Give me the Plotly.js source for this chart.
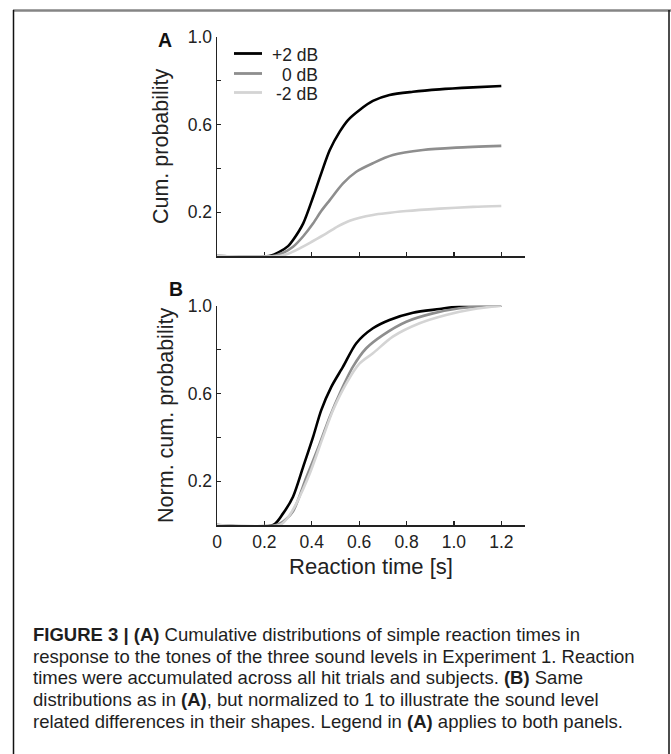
<!DOCTYPE html>
<html>
<head>
<meta charset="utf-8">
<script src="https://cdn.plot.ly/plotly-3.0.1.min.js"></script>
<style>
  html, body { margin: 0; padding: 0; background: #fff; }
  #chart { width: 671px; height: 754px; }
</style>
</head>
<body>
<div id="chart"></div>
<script>
// ---- Data ----
const seriesNames = ['+2 dB', '0 dB', '-2 dB'];
const seriesColors = ['#000000', '#8e8e8e', '#d4d4d4'];

// Panel A: cumulative probability
const xA_plus2 = [0, 0.22, 0.265, 0.30, 0.321, 0.364, 0.406, 0.44, 0.476, 0.518, 0.553, 0.602, 0.658, 0.728, 0.827, 0.939, 1.08, 1.2];
const yA_plus2 = [0, 0, 0.02, 0.045, 0.073, 0.149, 0.27, 0.377, 0.483, 0.567, 0.62, 0.666, 0.707, 0.734, 0.749, 0.760, 0.769, 0.775];
const xA_zero  = [0, 0.236, 0.28, 0.321, 0.364, 0.406, 0.44, 0.476, 0.532, 0.588, 0.658, 0.742, 0.869, 1.009, 1.2];
const yA_zero  = [0, 0, 0.015, 0.042, 0.09, 0.149, 0.205, 0.255, 0.331, 0.384, 0.423, 0.46, 0.483, 0.494, 0.502];
const xA_minus2 = [0, 0.265, 0.30, 0.349, 0.40, 0.462, 0.51, 0.56, 0.658, 0.799, 0.939, 1.08, 1.2];
const yA_minus2 = [0, 0, 0.01, 0.035, 0.065, 0.103, 0.135, 0.161, 0.187, 0.205, 0.216, 0.224, 0.228];

// Panel B: normalized cumulative probability
const xB_plus2 = [0, 0.237, 0.279, 0.321, 0.364, 0.406, 0.44, 0.483, 0.532, 0.588, 0.658, 0.728, 0.827, 0.939, 1.023, 1.08, 1.2];
const yB_plus2 = [0, 0, 0.053, 0.129, 0.266, 0.403, 0.524, 0.631, 0.722, 0.829, 0.897, 0.935, 0.968, 0.985, 0.997, 1.0, 1.0];
const xB_zero  = [0, 0.25, 0.29, 0.321, 0.378, 0.434, 0.476, 0.518, 0.574, 0.63, 0.7, 0.799, 0.911, 1.023, 1.121, 1.2];
const yB_zero  = [0, 0, 0.025, 0.062, 0.22, 0.372, 0.494, 0.6, 0.722, 0.806, 0.866, 0.927, 0.965, 0.988, 0.998, 1.0];
const xB_minus2 = [0, 0.265, 0.30, 0.335, 0.392, 0.448, 0.49, 0.546, 0.602, 0.658, 0.742, 0.855, 0.967, 1.08, 1.2];
const yB_minus2 = [0, 0, 0.035, 0.099, 0.236, 0.403, 0.524, 0.646, 0.737, 0.783, 0.859, 0.92, 0.958, 0.984, 1.0];

// Axis ticks
const xTickVals = [0, 0.2, 0.4, 0.6, 0.8, 1.0, 1.2];
const xTickText = ['0', '0.2', '0.4', '0.6', '0.8', '1.0', '1.2'];
const yTickVals = [0.2, 0.4, 0.6, 0.8, 1.0];
const yTickText = ['0.2', '', '0.6', '', '1.0'];

// Caption lines
const captionLines = [
  '<b>FIGURE 3 | (A)</b> Cumulative distributions of simple reaction times in',
  'response to the tones of the three sound levels in Experiment 1. Reaction',
  'times were accumulated across all hit trials and subjects. <b>(B)</b> Same',
  'distributions as in <b>(A)</b>, but normalized to 1 to illustrate the sound level',
  'related differences in their shapes. Legend in <b>(A)</b> applies to both panels.'
];

// ---- Build traces ----
const W = 671, H = 754;
const px = v => v / W;
const py = v => 1 - v / H;

const panelA = [[xA_plus2, yA_plus2], [xA_zero, yA_zero], [xA_minus2, yA_minus2]];
const panelB = [[xB_plus2, yB_plus2], [xB_zero, yB_zero], [xB_minus2, yB_minus2]];

const traces = [];
[[panelA, 'x', 'y'], [panelB, 'x2', 'y2']].forEach(([panel, xa, ya]) => {
  panel.forEach((d, i) => {
    traces.push({
      x: d[0], y: d[1], xaxis: xa, yaxis: ya, type: 'scatter', mode: 'lines',
      name: seriesNames[i], legendgroup: 'g' + i, showlegend: false,
      line: {color: seriesColors[i], width: 2.6, shape: 'spline', smoothing: 0.8},
      cliponaxis: false, hoverinfo: 'skip'
    });
  });
});

const axisCommon = {
  showgrid: false, zeroline: false, showline: true, linecolor: '#222', linewidth: 1.5,
  ticks: 'inside', ticklen: 4, tickwidth: 1.2, tickcolor: '#222',
  tickfont: {size: 17.5, color: '#222'}, layer: 'below traces', automargin: false,
  fixedrange: true
};
const xDomain = [px(217), px(525)];

const annotations = [
  {text: '<b>A</b>', x: px(165), y: py(40), xref: 'paper', yref: 'paper',
   showarrow: false, xanchor: 'center', yanchor: 'middle', font: {size: 19.5, color: '#111'}},
  {text: '<b>B</b>', x: px(176), y: py(289), xref: 'paper', yref: 'paper',
   showarrow: false, xanchor: 'center', yanchor: 'middle', font: {size: 19.5, color: '#111'}}
];

// Legend (drawn in panel A, top-left), key lines + right-aligned labels
const legendY = [53.5, 73.5, 92.5];
const shapes = [];
seriesNames.forEach((n, i) => {
  shapes.push({type: 'line', xref: 'paper', yref: 'paper',
    x0: px(234), x1: px(262), y0: py(legendY[i]), y1: py(legendY[i]),
    line: {color: seriesColors[i], width: 2.8}});
  annotations.push({text: n, x: px(320), y: py(legendY[i] + 1), xref: 'paper', yref: 'paper',
    showarrow: false, xanchor: 'right', yanchor: 'middle', align: 'right',
    font: {size: 17.5, color: '#222'}});
});

const capTop = 622, capStep = 21.7;
captionLines.forEach((t, i) => {
  annotations.push({
    text: t, x: px(31), y: py(capTop + i * capStep), xref: 'paper', yref: 'paper',
    showarrow: false, xanchor: 'left', yanchor: 'top', align: 'left',
    font: {size: 18.5, color: '#1e1e1e', family: 'Liberation Sans, Arial, sans-serif'}
  });
});

// Figure frame
shapes.push(
  {type: 'line', xref: 'paper', yref: 'paper', x0: px(13), x1: px(671), y0: py(10.5), y1: py(10.5),
   line: {color: '#858585', width: 2.3}},
  {type: 'line', xref: 'paper', yref: 'paper', x0: px(13.5), x1: px(13.5), y0: py(10), y1: py(754),
   line: {color: '#111', width: 1.5}},
  {type: 'line', xref: 'paper', yref: 'paper', x0: px(669), x1: px(669), y0: py(10), y1: py(754),
   line: {color: '#111', width: 1.5}}
);

const layout = {
  width: W, height: H,
  margin: {l: 0, r: 0, t: 0, b: 0},
  paper_bgcolor: '#ffffff', plot_bgcolor: '#ffffff',
  font: {family: 'Liberation Sans, Arial, sans-serif', color: '#222'},
  showlegend: false,
  xaxis: Object.assign({}, axisCommon, {
    domain: xDomain, anchor: 'y', range: [0, 1.3],
    tickmode: 'array', tickvals: xTickVals, showticklabels: false
  }),
  yaxis: Object.assign({}, axisCommon, {
    domain: [py(256), py(36.7)], anchor: 'x', range: [0, 1],
    tickmode: 'array', tickvals: yTickVals, ticktext: yTickText,
    title: {text: 'Cum. probability', font: {size: 21.5, color: '#222'}, standoff: 13}
  }),
  xaxis2: Object.assign({}, axisCommon, {
    domain: xDomain, anchor: 'y2', range: [0, 1.3],
    tickmode: 'array', tickvals: xTickVals, ticktext: xTickText,
    title: {text: 'Reaction time [s]', font: {size: 22, color: '#222'}, standoff: 8}
  }),
  yaxis2: Object.assign({}, axisCommon, {
    domain: [py(525), py(305.7)], anchor: 'x2', range: [0, 1],
    tickmode: 'array', tickvals: yTickVals, ticktext: yTickText,
    title: {text: 'Norm. cum. probability', font: {size: 21.5, color: '#222'}, standoff: 8}
  }),
  annotations: annotations,
  shapes: shapes
};

Plotly.newPlot('chart', traces, layout, {displayModeBar: false, staticPlot: true});
</script>
</body>
</html>
